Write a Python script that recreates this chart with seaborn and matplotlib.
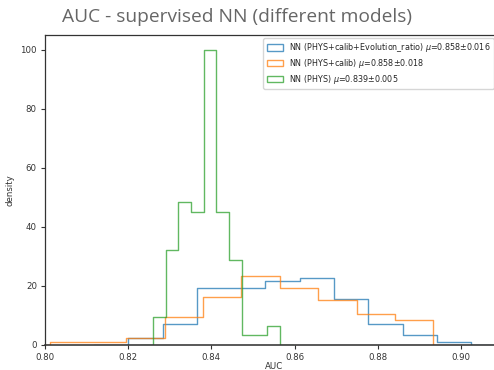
import numpy as np
import pandas as pd
import matplotlib
matplotlib.use("Agg")
import matplotlib.pyplot as plt
from matplotlib.patches import Patch
import seaborn as sns

# ---- data ----
labels = [
    r"NN (PHYS+calib+Evolution_ratio) $\mu$=0.858$\pm$0.016",
    r"NN (PHYS+calib) $\mu$=0.858$\pm$0.018",
    r"NN (PHYS) $\mu$=0.839$\pm$0.005",
]
# bin range (first edge, last edge) and density heights per series (10 bins each)
evo_range = (0.8201, 0.9024)
evo_density = [2.4, 7.1, 19.2, 19.2, 21.8, 22.8, 15.7, 7.1, 3.5, 1.1]
calib_range = (0.8012, 0.8933)
calib_density = [1.1, 1.1, 2.4, 9.6, 16.2, 23.5, 19.2, 15.3, 10.6, 8.6]
phys_range = (0.8260, 0.8565)
phys_density = [9.6, 32.2, 48.6, 45.2, 100.0, 45.2, 28.8, 3.3, 3.3, 6.5]

xticks = [0.80, 0.82, 0.84, 0.86, 0.88, 0.90]
yticks = [0, 20, 40, 60, 80, 100]

series = [(evo_range, evo_density), (calib_range, calib_density), (phys_range, phys_density)]
colors = sns.color_palette("tab10", 3)

sns.set_style("white")
plt.rcParams["font.family"] = ["DejaVu Sans"]

fig = plt.figure(figsize=(4.94, 3.70), dpi=100)
x0_px, x1_px = 44.5, 503.0
ax = fig.add_axes([x0_px / 494, 1 - 345 / 370, (x1_px - x0_px) / 494, (345 - 35) / 370])

for (rng, dens), col, lab in zip(series, colors, labels):
    n = len(dens)
    width = (rng[1] - rng[0]) / n
    # one empty bin on each side so the outline drops to zero at both ends
    edges = np.linspace(rng[0] - width, rng[1] + width, n + 3).tolist()
    centers = [(a + b) / 2 for a, b in zip(edges[1:-2], edges[2:-1])]
    df = pd.DataFrame({"AUC": centers, "w": dens})
    sns.histplot(data=df, x="AUC", weights="w", bins=edges, element="step",
                 fill=False, color=col, alpha=0.75, linewidth=1.0, ax=ax, stat="count")

ax.set_xlim(0.80, 0.91)
ax.set_ylim(0, 105)
ax.set_xticks(xticks)
ax.set_xticklabels([f"{t:.2f}" for t in xticks])
ax.set_yticks(yticks)
ax.tick_params(axis="both", labelsize=6.2, length=3, width=0.8, colors="#333333",
               direction="out", pad=2.5)
ax.tick_params(axis="both", left=True, bottom=True)
ax.set_xlabel("AUC", fontsize=6.2, color="#333333", labelpad=0)
ax.set_ylabel("density", fontsize=6.2, color="#333333", labelpad=4)
for side in ["left", "bottom", "top"]:
    ax.spines[side].set_color("#333333")
    ax.spines[side].set_linewidth(0.9)
    ax.spines[side].set_zorder(3)
ax.spines["bottom"].set_linewidth(1.15)
ax.spines["right"].set_visible(False)

handles = [Patch(facecolor="none", edgecolor=c, alpha=0.75, linewidth=1.0) for c in colors]
leg = ax.legend(handles, labels, loc="upper right", fontsize=5.8, frameon=True,
                bbox_to_anchor=(494 / 494, 1 - 38 / 370), bbox_transform=fig.transFigure,
                borderaxespad=0, handlelength=2.0, handleheight=0.8, labelspacing=0.35)
leg.get_frame().set_edgecolor("#cccccc")

fig.text(62 / 494, 1 - 8 / 370, "AUC - supervised NN (different models)", fontsize=13.8,
         color="#666666", ha="left", va="top", family=["Open Sans", "DejaVu Sans"])

fig.savefig("out.png", dpi=100)
